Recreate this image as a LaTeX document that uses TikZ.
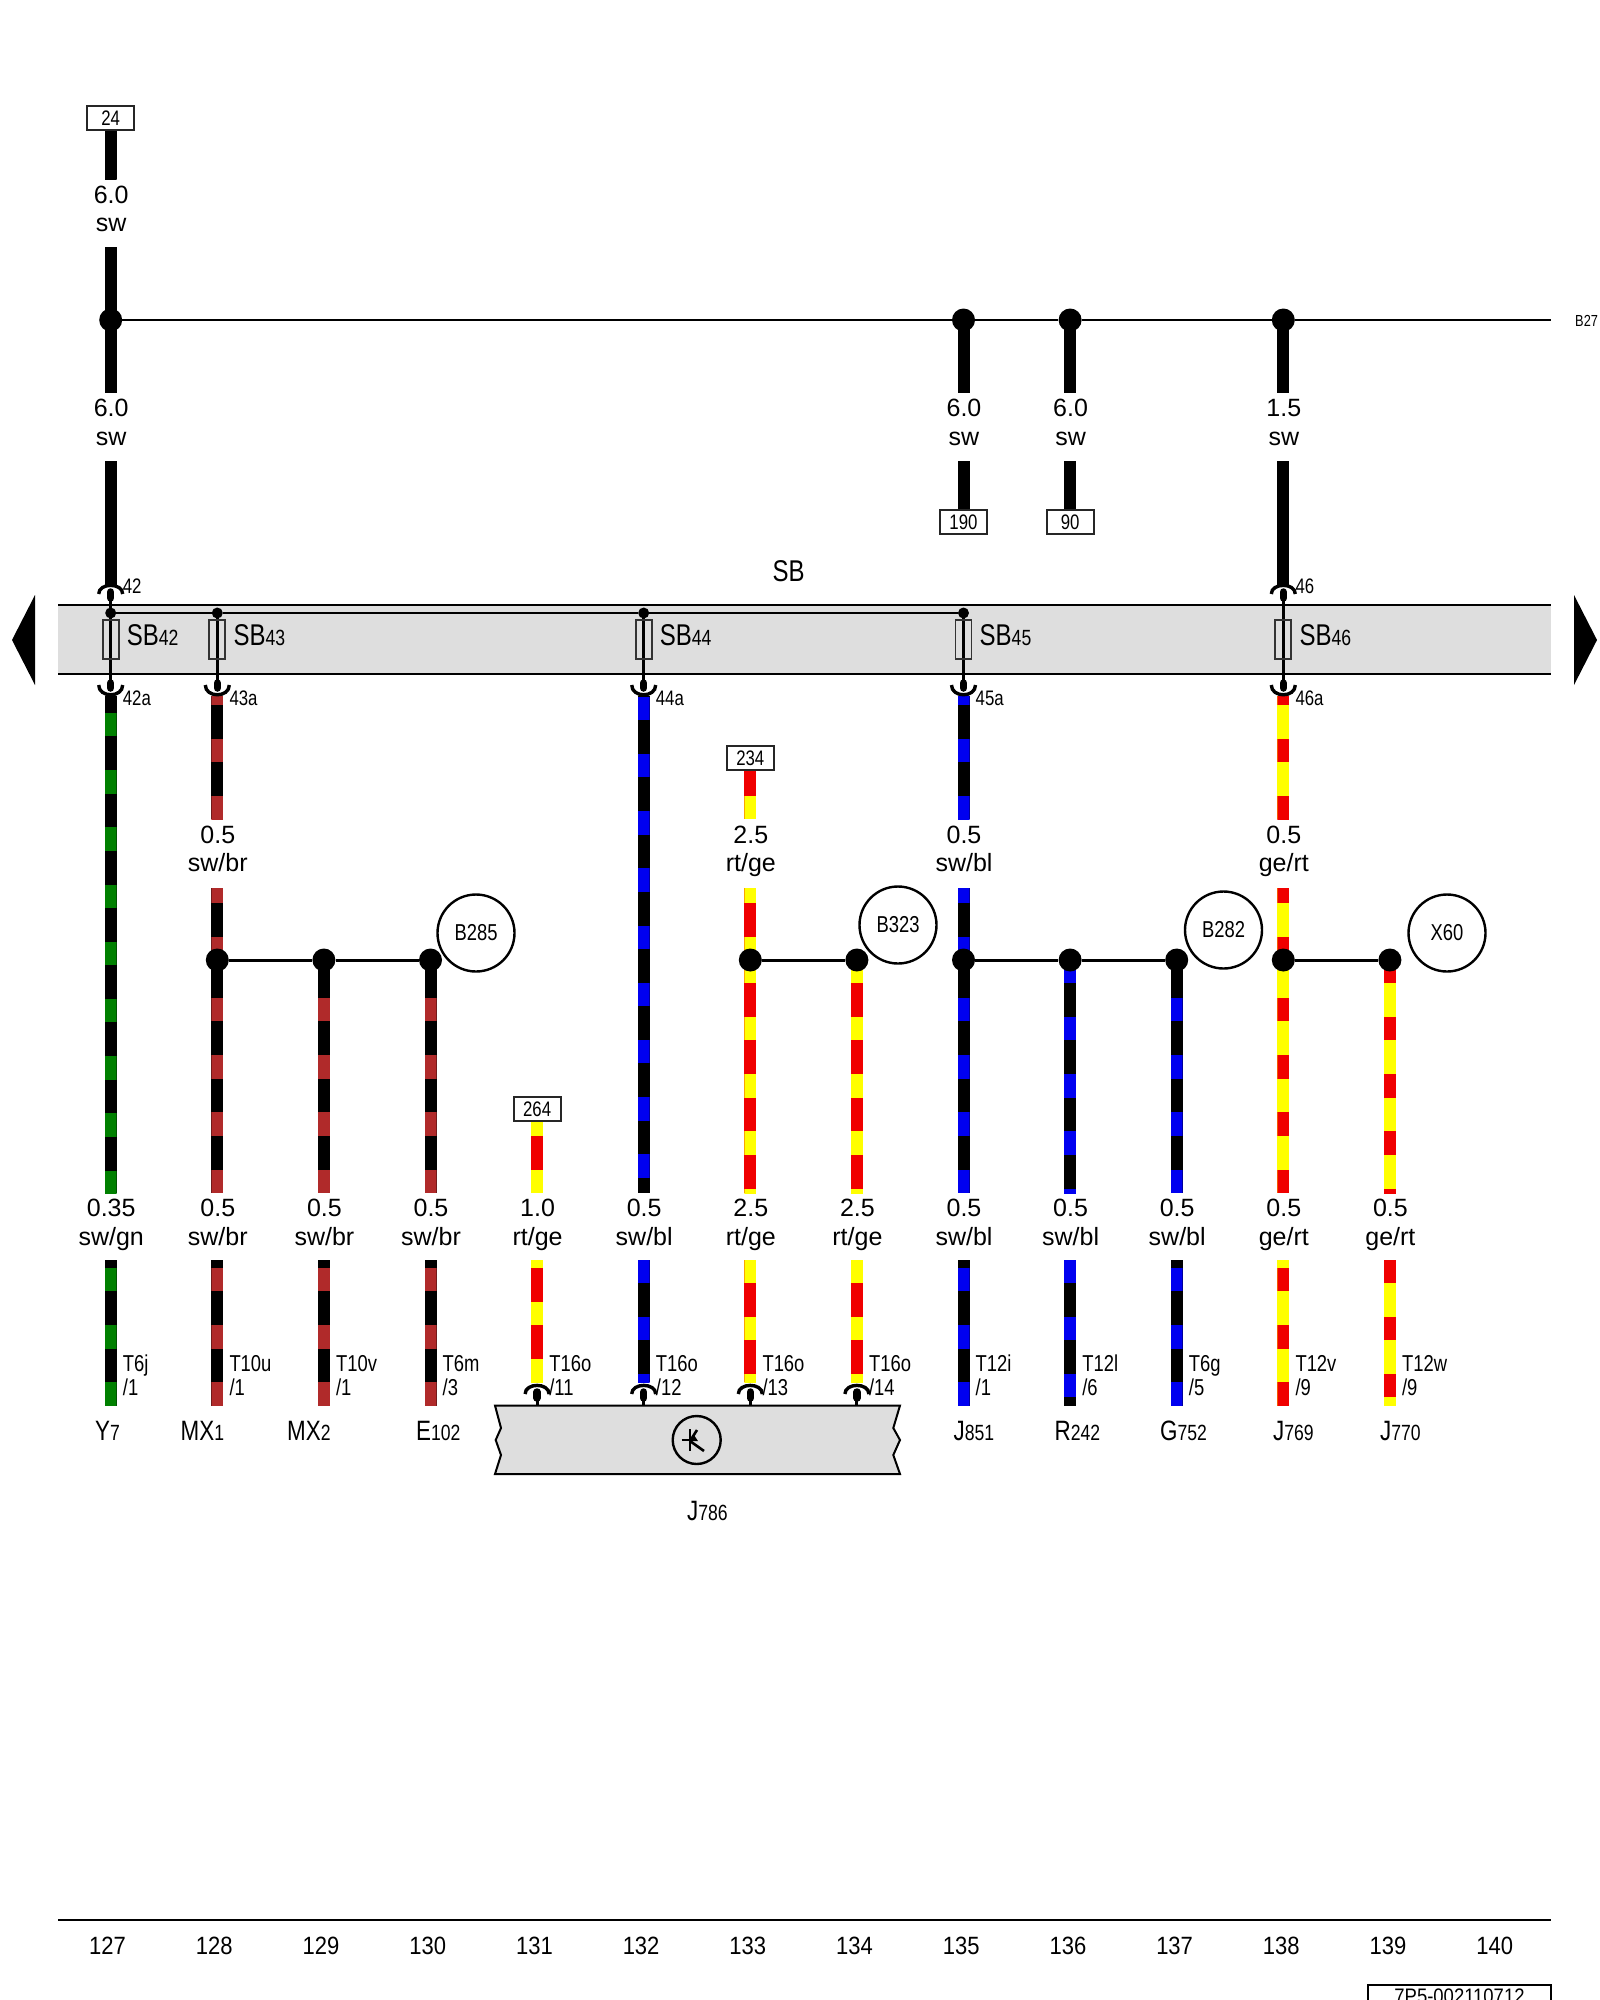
\documentclass[tikz,border=0pt]{standalone}
\usepackage{fontspec}
\setmainfont{Liberation Sans}
\newfontfamily\cf[FakeStretch=0.8]{Liberation Sans}
\newfontfamily\nf[FakeStretch=0.88]{Liberation Sans}
\newcommand\fs[1]{\fontsize{#1}{#1}\selectfont}
\definecolor{wbrown}{HTML}{B02A2A}
\definecolor{wgreen}{HTML}{008000}
\definecolor{wblue}{HTML}{0000F0}
\definecolor{wred}{HTML}{F00000}
\definecolor{wyellow}{HTML}{FFFF00}
\definecolor{bandgray}{HTML}{DEDEDE}
\newcounter{wn}
\newcounter{cn}
\newcounter{tn}
\tikzset{
  wirepath/.style={line width=12pt},
  dotbig/.style={circle,fill=black,inner sep=0pt,minimum size=23pt},
  dotsmall/.style={circle,fill=black,inner sep=0pt,minimum size=11pt},
  tagbox/.style={draw=black!85,line width=2pt,fill=white,inner sep=0pt,minimum width=47pt,minimum height=24pt,font=\cf\fs{21}},
  ringlabel/.style={draw=black,line width=2.4pt,circle,inner sep=0pt,minimum size=77pt,font=\cf\fs{23}},
  thinw/.style={line width=3pt},
  busline/.style={line width=2.4pt},
  szlabel/.style={anchor=base,inner sep=0pt,font=\fs{25}},
  conlabel/.style={anchor=base west,inner sep=0pt,font=\cf\fs{21}},
  pinlabel/.style={anchor=base west,inner sep=0pt,font=\cf\fs{23}},
  devlabel/.style={anchor=base west,inner sep=0pt},
  fuserect/.style={draw=black!80,line width=1.8pt,minimum width=16pt,minimum height=39pt,inner sep=0pt},
  pagenum/.style={anchor=base,inner sep=0pt,font=\nf\fs{25}},
}
\newcommand\cxof[1]{\pgfmathsetmacro\cx{110.7+106.6*#1}}
% col, y1, y2, base colour, stripe colour, stripe phase
\newcommand\wire[6]{%
  \cxof{#1}\stepcounter{wn}%
  \coordinate (w\thewn a) at (\cx,#2);
  \coordinate (w\thewn b) at (\cx,#3);
  \draw[wirepath,draw=#4] (w\thewn a) -- (w\thewn b);
  \begin{scope}
    \clip (\cx-6,#2) rectangle (\cx+6,#3);
    \foreach \k in {-10,...,10}{
      \fill[#5] (\cx-6,#6+57.2*\k) rectangle (\cx+6,#6+57.2*\k+23.4);
    }
  \end{scope}
}
\newcommand\blk[3]{\wire{#1}{#2}{#3}{black}{black}{0}}
% connector opening upward (wire comes from above)
\newcommand\conup[3]{% col, arc base y, pin end y
  \cxof{#1}\stepcounter{cn}%
  \coordinate (c\thecn a) at (\cx,#2);
  \coordinate (c\thecn b) at (\cx,#3);
  \draw[line width=3.4pt] (\cx-12,#2) .. controls (\cx-12,#2-11.5) and (\cx+12,#2-11.5) .. (\cx+12,#2);
  \draw[line width=7.5pt,line cap=round] (\cx,#2-2) -- (\cx,#2+4);
  \draw[thinw] (c\thecn a) -- (c\thecn b);
}
\newcommand\condown[3]{% col, arc base y, pin start y
  \cxof{#1}\stepcounter{cn}%
  \coordinate (c\thecn a) at (\cx,#3);
  \coordinate (c\thecn b) at (\cx,#2);
  \draw[line width=3.4pt] (\cx-12,#2) .. controls (\cx-12,#2+13) and (\cx+12,#2+13) .. (\cx+12,#2);
  \draw[line width=7.5pt,line cap=round] (\cx,#2-2) -- (\cx,#2+3);
  \draw[thinw] (c\thecn a) -- (c\thecn b);
}
\newcommand\sz[5]{% col, y1, text1, y2, text2
  \cxof{#1}\stepcounter{tn}%
  \node[szlabel] (sa\thetn) at (\cx+0.5,#2) {#3};
  \node[szlabel] (sb\thetn) at (\cx+0.5,#4) {#5};
}
\newcommand\pin[3]{% col, line1, line2
  \cxof{#1}\stepcounter{tn}%
  \node[pinlabel] (pa\thetn) at (\cx+12,1371) {#2};
  \node[pinlabel] (pb\thetn) at (\cx+12,1395) {#3};
}
\newcommand\dev[4]{% x, baseline, big, small
  \stepcounter{tn}%
  \node[devlabel] (d\thetn) at (#1,#2) {\cf\fs{28}#3\fs{22}#4};
}
\begin{document}
\begin{tikzpicture}[x=1pt,y=-1pt,line cap=butt]
\useasboundingbox (0,0) rectangle (1600,2000);
\clip (0,0) rectangle (1600,2000);
\fill[white] (0,0) rectangle (1600,2000);

% fuse band
\fill[bandgray] (58,605) rectangle (1551,674);
\coordinate (bandTL) at (58,605); \coordinate (bandTR) at (1551,605);
\coordinate (bandBL) at (58,674); \coordinate (bandBR) at (1551,674);
\draw[line width=2pt] (bandTL) -- (bandTR);
\draw[line width=2pt] (bandBL) -- (bandBR);
\fill (35,595) -- (12,640) -- (35,685) -- cycle;
\fill (1574,595) -- (1597,640) -- (1574,685) -- cycle;
\node[anchor=base,inner sep=0pt,font=\cf\fs{30}] (sbt) at (788.6,581) {SB};

% top solid wires
\blk{0}{130}{179}
\blk{0}{247}{393}
\blk{0}{461}{586}
\blk{8}{320}{393}
\blk{8}{461}{510}
\blk{9}{320}{393}
\blk{9}{461}{510}
\blk{11}{320}{393}
\blk{11}{461}{586}

% junctions of the top bus
\cxof{0}\node[dotbig] (j0) at (\cx,320) {};
\cxof{8}\node[dotbig] (j8) at (\cx,320) {};
\cxof{9}\node[dotbig] (j9) at (\cx,320) {};
\cxof{11}\node[dotbig] (j11) at (\cx,320) {};
\coordinate (busend) at (1551,320);
\draw[line width=2pt] (j0) -- (j8) -- (j9) -- (j11) -- (busend);
\node[anchor=base west,inner sep=0pt,font=\cf\fs{16}] (b27) at (1575,326.5) {B27};

% tag boxes
\cxof{0}\node[tagbox] (t24) at (\cx,118) {24};
\cxof{8}\node[tagbox] (t190) at (\cx,522) {190};
\cxof{9}\node[tagbox] (t90) at (\cx,522) {90};

% size labels, top
\sz{0}{203}{6.0}{231.5}{sw}
\sz{0}{416}{6.0}{445}{sw}
\sz{8}{416}{6.0}{445}{sw}
\sz{9}{416}{6.0}{445}{sw}
\sz{11}{416}{1.5}{445}{sw}

% internal bus of the fuse carrier
\cxof{0}\node[dotsmall] (s0) at (\cx,613) {};
\cxof{1}\node[dotsmall] (s1) at (\cx,613) {};
\cxof{5}\node[dotsmall] (s5) at (\cx,613) {};
\cxof{8}\node[dotsmall] (s8) at (\cx,613) {};
\draw[busline] (s0) -- (s1) -- (s5) -- (s8);

% coloured wires below the band
\wire{0}{696}{1193}{black}{wgreen}{713}
\wire{1}{696}{819}{black}{wbrown}{739}
\wire{5}{696}{1193}{black}{wblue}{754}
\wire{8}{696}{819}{black}{wblue}{739}
\wire{11}{696}{819}{wyellow}{wred}{739}

% connectors on the band
\conup{0}{594}{686}
\conup{11}{594}{686}
\condown{0}{685}{594}
\condown{1}{685}{613}
\condown{5}{685}{613}
\condown{8}{685}{613}
\condown{11}{685}{594}

% fuses
\foreach \c/\n in {0/42,1/43,5/44,8/45,11/46}{
  \cxof{\c}
  \node[fuserect] (f\n) at (\cx,639.5) {};
  \node[anchor=base west,inner sep=0pt] (fl\n) at (\cx+16,645) {\cf\fs{30}SB\fs{22}\n};
  \node[conlabel] (cb\n) at (\cx+12,705) {\n a};
}
\cxof{0}\node[conlabel] (ct42) at (\cx+12,593) {42};
\cxof{11}\node[conlabel] (ct46) at (\cx+12,593) {46};

% mid tag
\wire{6}{770}{819}{wred}{wyellow}{796}
\cxof{6}\node[tagbox] (t234) at (\cx,758) {234};

% size labels, middle
\sz{1}{843}{0.5}{871}{sw/br}
\sz{6}{843}{2.5}{871}{rt/ge}
\sz{8}{843}{0.5}{871}{sw/bl}
\sz{11}{843}{0.5}{871}{ge/rt}

% wires between labels and lower labels
\wire{1}{888}{960}{black}{wbrown}{937}
\wire{1}{960}{1193}{black}{wbrown}{998}
\wire{2}{960}{1193}{black}{wbrown}{998}
\wire{3}{960}{1193}{black}{wbrown}{998}
\wire{6}{888}{960}{wred}{wyellow}{937}
\wire{6}{960}{1193}{wred}{wyellow}{1017}
\wire{7}{960}{1193}{wred}{wyellow}{1017}
\wire{8}{888}{960}{black}{wblue}{937}
\wire{8}{960}{1193}{black}{wblue}{998}
\wire{9}{960}{1193}{black}{wblue}{1017}
\wire{10}{960}{1193}{black}{wblue}{998}
\wire{11}{888}{960}{wyellow}{wred}{937}
\wire{11}{960}{1193}{wyellow}{wred}{998}
\wire{12}{960}{1193}{wyellow}{wred}{1017}
\wire{4}{1120}{1193}{wred}{wyellow}{1169.7}

% splice groups
\foreach \c in {1,2,3,6,7,8,9,10,11,12}{
  \cxof{\c}\node[dotbig] (n\c) at (\cx,960) {};
}
\draw[thinw] (n1) -- (n2) -- (n3);
\draw[thinw] (n6) -- (n7);
\draw[thinw] (n8) -- (n9) -- (n10);
\draw[thinw] (n11) -- (n12);
\node[ringlabel] (B285) at (476,933) {B285};
\node[ringlabel] (B323) at (898,925) {B323};
\node[ringlabel] (B282) at (1223.5,930) {B282};
\node[ringlabel] (X60) at (1447,933) {X60};
\cxof{4}\node[tagbox] (t264) at (\cx,1109) {264};

% size labels, lower
\sz{0}{1216}{0.35}{1245}{sw/gn}
\sz{1}{1216}{0.5}{1245}{sw/br}
\sz{2}{1216}{0.5}{1245}{sw/br}
\sz{3}{1216}{0.5}{1245}{sw/br}
\sz{4}{1216}{1.0}{1245}{rt/ge}
\sz{5}{1216}{0.5}{1245}{sw/bl}
\sz{6}{1216}{2.5}{1245}{rt/ge}
\sz{7}{1216}{2.5}{1245}{rt/ge}
\sz{8}{1216}{0.5}{1245}{sw/bl}
\sz{9}{1216}{0.5}{1245}{sw/bl}
\sz{10}{1216}{0.5}{1245}{sw/bl}
\sz{11}{1216}{0.5}{1245}{ge/rt}
\sz{12}{1216}{0.5}{1245}{ge/rt}

% lowest wires
\wire{0}{1260}{1406}{black}{wgreen}{1268}
\wire{1}{1260}{1406}{black}{wbrown}{1268}
\wire{2}{1260}{1406}{black}{wbrown}{1268}
\wire{3}{1260}{1406}{black}{wbrown}{1268}
\wire{4}{1260}{1382}{wred}{wyellow}{1302}
\wire{5}{1260}{1382}{black}{wblue}{1259.6}
\wire{6}{1260}{1382}{wred}{wyellow}{1259.6}
\wire{7}{1260}{1382}{wred}{wyellow}{1259.6}
\wire{8}{1260}{1406}{black}{wblue}{1268}
\wire{9}{1260}{1406}{black}{wblue}{1259.6}
\wire{10}{1260}{1406}{black}{wblue}{1268}
\wire{11}{1260}{1406}{wyellow}{wred}{1268}
\wire{12}{1260}{1406}{wyellow}{wred}{1259.6}

% control unit J786
\draw[line width=2pt,fill=bandgray,line join=miter]
  (495,1405.5) -- (501,1428) -- (495.7,1440) -- (501,1455) -- (495,1474)
  -- (900,1474) -- (893.3,1455) -- (900,1440) -- (893.3,1428) -- (900,1405.5) -- cycle;
\node[circle,draw=black,line width=2.4pt,inner sep=0pt,minimum size=48pt] (ksym) at (696.7,1440) {};
\draw[line width=2.6pt] (690,1429) -- (690,1451);
\draw[line width=2.6pt] (681.5,1440) -- (690,1440);
\draw[line width=2.6pt] (690,1441) -- (697,1430);
\draw[line width=2.6pt] (690,1441) -- (704,1451);
\fill (690,1441) -- (698,1441) -- (694,1435) -- cycle;
\conup{4}{1394}{1405}
\conup{5}{1394}{1405}
\conup{6}{1394}{1405}
\conup{7}{1394}{1405}

% pin labels
\pin{0}{T6j}{/1}
\pin{1}{T10u}{/1}
\pin{2}{T10v}{/1}
\pin{3}{T6m}{/3}
\pin{4}{T16o}{/11}
\pin{5}{T16o}{/12}
\pin{6}{T16o}{/13}
\pin{7}{T16o}{/14}
\pin{8}{T12i}{/1}
\pin{9}{T12l}{/6}
\pin{10}{T6g}{/5}
\pin{11}{T12v}{/9}
\pin{12}{T12w}{/9}

% device labels
\dev{95}{1440}{Y}{7}
\dev{180.5}{1440}{MX}{1}
\dev{287}{1440}{MX}{2}
\dev{416}{1440}{E}{102}
\dev{687}{1520}{J}{786}
\dev{953.5}{1440}{J}{851}
\dev{1054.5}{1440}{R}{242}
\dev{1160}{1440}{G}{752}
\dev{1273}{1440}{J}{769}
\dev{1380}{1440}{J}{770}

% footer
\coordinate (footL) at (58,1920); \coordinate (footR) at (1551,1920);
\draw[line width=2pt] (footL) -- (footR);
\foreach \i in {0,...,13}{
  \pgfmathtruncatemacro\num{127+\i}
  \node[pagenum] (pg\num) at (107.6+106.7*\i,1954) {\num};
}
\draw[line width=2pt,fill=white] (1368,2010) -- (1368,1984.5) -- (1551,1984.5) -- (1551,2010);
\node[anchor=base,inner sep=0pt,font=\nf\fs{21}] (docid) at (1459.5,2003) {7P5-002110712};
\end{tikzpicture}
\end{document}
